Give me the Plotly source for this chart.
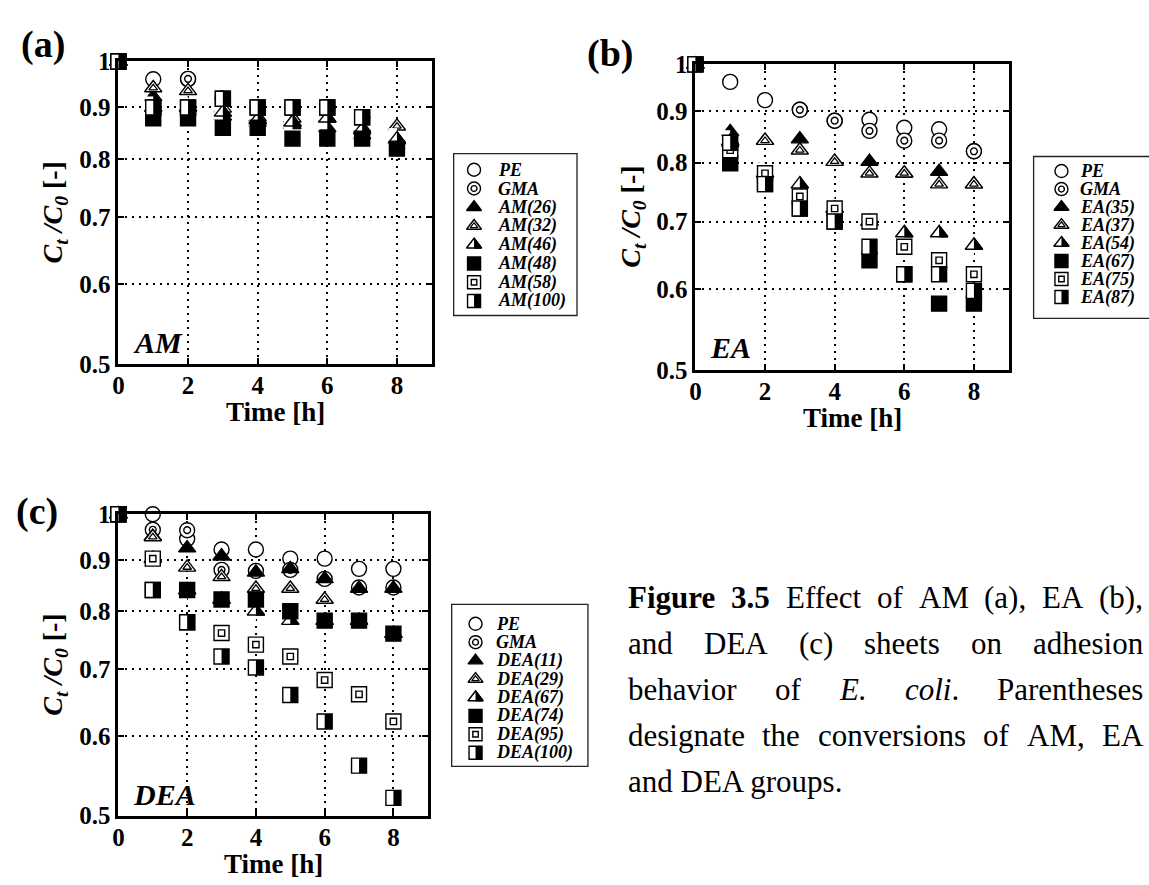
import plotly.graph_objects as go

W, H = 1149, 885
SERIF = "Liberation Serif, Times New Roman, Times, serif"

# ---------------- data ----------------
TIME_H = [0, 1, 2, 3, 4, 5, 6, 7, 8]
X_TICKS = [0, 2, 4, 6, 8]
Y_TICKS = [0.5, 0.6, 0.7, 0.8, 0.9, 1.0]
Y_TICK_TEXT = ["0.5", "0.6", "0.7", "0.8", "0.9", "1"]
SYMBOL_KINDS = ["circle", "dcircle", "tri", "dtri", "htri", "sq", "dsq", "hsq"]

AM_LABELS = ["PE", "GMA", "AM(26)", "AM(32)", "AM(46)", "AM(48)", "AM(58)", "AM(100)"]
AM_PE = [1.0, 0.960, 0.960, 0.918, 0.900, 0.900, 0.900, 0.880, 0.820]
AM_GMA = [1.0, 0.900, 0.961, 0.918, 0.900, 0.900, 0.900, 0.880, 0.820]
AM_26 = [1.0, 0.922, 0.900, 0.882, 0.870, 0.865, 0.859, 0.845, 0.835]
AM_32 = [1.0, 0.941, 0.935, 0.898, 0.880, 0.878, 0.878, 0.859, 0.862]
AM_46 = [1.0, 0.900, 0.900, 0.890, 0.875, 0.870, 0.878, 0.855, 0.837]
AM_48 = [1.0, 0.878, 0.878, 0.859, 0.859, 0.838, 0.838, 0.838, 0.819]
AM_58 = [1.0, 0.900, 0.900, 0.918, 0.900, 0.900, 0.900, 0.880, None]
AM_100 = [1.0, 0.900, 0.900, 0.918, 0.900, 0.900, 0.900, 0.880, None]

EA_LABELS = ["PE", "GMA", "EA(35)", "EA(37)", "EA(54)", "EA(67)", "EA(75)", "EA(87)"]
EA_PE = [1.0, 0.961, 0.922, 0.902, 0.880, 0.882, 0.866, 0.863, 0.821]
EA_GMA = [1.0, None, None, 0.902, 0.880, 0.860, 0.841, 0.841, 0.821]
EA_35 = [1.0, 0.858, 0.841, 0.844, 0.802, 0.802, 0.781, 0.784, 0.762]
EA_37 = [1.0, 0.837, 0.841, 0.823, 0.802, 0.781, 0.781, 0.762, 0.762]
EA_54 = [1.0, 0.840, 0.781, 0.762, 0.721, 0.700, 0.682, 0.682, 0.663]
EA_67 = [1.0, 0.799, 0.762, 0.721, 0.700, 0.641, 0.621, 0.581, 0.581]
EA_75 = [1.0, 0.823, 0.781, 0.741, 0.721, 0.700, 0.661, 0.641, 0.621]
EA_87 = [1.0, 0.837, 0.762, 0.721, 0.700, 0.661, 0.621, 0.621, 0.598]

DEA_LABELS = ["PE", "GMA", "DEA(11)", "DEA(29)", "DEA(67)", "DEA(74)", "DEA(95)", "DEA(100)"]
DEA_PE = [1.0, 1.000, 0.945, 0.922, 0.922, 0.903, 0.903, 0.882, 0.882]
DEA_GMA = [1.0, 0.965, 0.964, 0.880, 0.878, 0.880, 0.862, 0.845, 0.845]
DEA_11 = [1.0, 0.950, 0.925, 0.908, 0.875, 0.882, 0.862, 0.843, 0.843]
DEA_29 = [1.0, 0.949, 0.885, 0.866, 0.843, 0.843, 0.822, 0.783, 0.760]
DEA_67 = [1.0, 0.903, 0.840, 0.822, 0.800, 0.783, 0.783, 0.783, 0.760]
DEA_74 = [1.0, 0.840, 0.840, 0.822, 0.822, 0.800, 0.783, 0.783, 0.760]
DEA_95 = [1.0, 0.903, 0.780, 0.761, 0.741, 0.721, 0.683, 0.661, 0.621]
DEA_100 = [1.0, 0.840, 0.780, 0.721, 0.703, 0.660, 0.621, 0.561, 0.521]

PANEL_LETTERS = ["(a)", "(b)", "(c)"]
GROUP_NAMES = ["AM", "EA", "DEA"]
X_TITLE = "Time [h]"
Y_TITLE = "<b><i>C</i><sub><i>t</i></sub> <i>/C</i><sub><i>0</i></sub> [-]</b>"

CAPTION = [
    [[("Figure", "b")], [("3.5", "b")], [("Effect", "r")], [("of", "r")], [("AM", "r")],
     [("(a),", "r")], [("EA", "r")], [("(b),", "r")]],
    [[("and", "r")], [("DEA", "r")], [("(c)", "r")], [("sheets", "r")], [("on", "r")],
     [("adhesion", "r")]],
    [[("behavior", "r")], [("of", "r")], [("E.", "i")], [("coli", "i"), (".", "r")],
     [("Parentheses", "r")]],
    [[("designate", "r")], [("the", "r")], [("conversions", "r")], [("of", "r")],
     [("AM,", "r")], [("EA", "r")]],
    [[("and DEA groups.", "r")]],
]

# Times metrics (1/1000 em) used for justifying caption words
TIMES_R = {' ': 250, 'a': 444, 'b': 500, 'c': 444, 'd': 500, 'e': 444, 'f': 333, 'g': 500,
           'h': 500, 'i': 278, 'l': 278, 'm': 778, 'n': 500, 'o': 500, 'p': 500, 'r': 333,
           's': 389, 't': 278, 'u': 500, 'v': 500, 'A': 722, 'D': 722, 'E': 611, 'M': 889,
           'P': 556, '(': 333, ')': 333, ',': 250, '.': 250}
TIMES_B = {'F': 611, 'i': 278, 'g': 500, 'u': 556, 'r': 444, 'e': 444, '3': 500, '.': 250,
           '5': 500, ' ': 250}
TIMES_I = {'E': 611, '.': 250, 'c': 444, 'o': 500, 'l': 278, 'i': 278}


# ---------------- layout geometry (pixels) ----------------
def fx(px):
    return px / W


def fy(py):
    return 1 - py / H


PANELS = [
    dict(x="x", y="y", lx="x4", ly="y4", dom_x=(113, 428), dom_y=(50, 362),
         labels=AM_LABELS,
         series=[AM_PE, AM_GMA, AM_26, AM_32, AM_46, AM_48, AM_58, AM_100],
         letter=(37, 33), inner=(128, 340),
         leg_box=(450, 145, 574, 312), leg_sym=470.5, leg_text=494, leg_rows=(161.7, 297)),
    dict(x="x2", y="y2", lx="x5", ly="y5", dom_x=(693, 1008), dom_y=(53, 368),
         labels=EA_LABELS,
         series=[EA_PE, EA_GMA, EA_35, EA_37, EA_54, EA_67, EA_75, EA_87],
         letter=(607, 42), inner=(708, 345),
         leg_box=(1033, 148, 1170, 315), leg_sym=1061, leg_text=1080, leg_rows=(163, 293)),
    dict(x="x3", y="y3", lx="x6", ly="y6", dom_x=(113, 424), dom_y=(517, 828),
         labels=DEA_LABELS,
         series=[DEA_PE, DEA_GMA, DEA_11, DEA_29, DEA_67, DEA_74, DEA_95, DEA_100],
         letter=(31, 514), inner=(128, 806),
         leg_box=(448, 610, 585, 777), leg_sym=472, leg_text=492, leg_rows=(630, 763)),
]

LW = 1.4


def marker_layers(kind, s):
    ln = dict(color="black", width=LW)
    if kind == "circle":
        return [dict(symbol="circle", size=s, color="white", line=ln)]
    if kind == "dcircle":
        return [dict(symbol="circle", size=s, color="white", line=ln),
                dict(symbol="circle", size=s * 0.45, color="white", line=ln)]
    if kind == "tri":
        return [dict(symbol="triangle-up", size=s, color="black", line=ln)]
    if kind == "dtri":
        return [dict(symbol="triangle-up", size=s, color="white", line=ln),
                dict(symbol="triangle-up", size=s * 0.5, color="white",
                     line=dict(color="black", width=LW * 0.9))]
    if kind == "htri":
        half = 1.1547 * s / 2
        return [dict(symbol="triangle-up", size=s, color="black", line=ln),
                dict(symbol="line-ew", size=s * 1.05, color="white", angle=90,
                     standoff=half / 2, line=dict(color="white", width=half)),
                dict(symbol="triangle-up-open", size=s, color="black", line=ln)]
    if kind == "sq":
        return [dict(symbol="square", size=s, color="black", line=ln)]
    if kind == "dsq":
        return [dict(symbol="square", size=s, color="white", line=ln),
                dict(symbol="square", size=s * 0.42, color="white", line=ln)]
    if kind == "hsq":
        return [dict(symbol="square", size=s, color="white", line=ln),
                dict(symbol="line-ew", size=s / 1.4, color="black", angle=-90,
                     standoff=s / 4, line=dict(color="black", width=s / 2))]
    return []


fig = go.Figure()
annotations = []
shapes = []
layout_axes = {}


def axname(ref, kind):
    return kind + "axis" + ref[1:]


for p in PANELS:
    # data markers
    for vals, kind in zip(p["series"], SYMBOL_KINDS):
        for mk in marker_layers(kind, 15):
            fig.add_trace(go.Scatter(x=TIME_H, y=vals, mode="markers", marker=mk,
                                     xaxis=p["x"], yaxis=p["y"], cliponaxis=False,
                                     hoverinfo="skip", showlegend=False))
    # legend keys
    for k, kind in enumerate(SYMBOL_KINDS):
        for mk in marker_layers(kind, 13):
            fig.add_trace(go.Scatter(x=[0], y=[k], mode="markers", marker=mk,
                                     xaxis=p["lx"], yaxis=p["ly"], cliponaxis=False,
                                     hoverinfo="skip", showlegend=False))
        annotations.append(dict(xref=p["lx"], yref=p["ly"], x=0, y=k,
                                xshift=p["leg_text"] - p["leg_sym"],
                                text="<b><i>" + p["labels"][k] + "</i></b>",
                                xanchor="left", yanchor="middle", showarrow=False,
                                borderpad=0, borderwidth=0,
                                font=dict(family=SERIF, size=18, color="black")))

    x0, x1 = p["dom_x"]
    y0, y1 = p["dom_y"]
    common = dict(showline=True, linecolor="black", linewidth=3, mirror="ticks",
                  ticks="inside", ticklen=6, tickwidth=1.5, tickcolor="black",
                  showgrid=True, gridcolor="black", gridwidth=1.8, griddash="2px,5px",
                  zeroline=False, fixedrange=True,
                  tickfont=dict(family=SERIF, size=25, color="black", weight="bold"))
    layout_axes[axname(p["x"], "x")] = dict(common, domain=[fx(x0), fx(x1)], anchor=p["y"],
                                            range=[0, 9], tickvals=X_TICKS,
                                            ticklabelstandoff=-3)
    layout_axes[axname(p["y"], "y")] = dict(common, domain=[fy(y1), fy(y0)], anchor=p["x"],
                                            type="log", range=[-0.30103, 0],
                                            tickvals=Y_TICKS, ticktext=Y_TICK_TEXT)
    # legend axes (hidden): row k of the key list sits at y = k
    r0, r1 = p["leg_rows"]
    step = (r1 - r0) / 7
    layout_axes[axname(p["lx"], "x")] = dict(domain=[fx(p["leg_sym"] - 10), fx(p["leg_sym"] + 10)],
                                             range=[-1, 1], visible=False, anchor=p["ly"],
                                             fixedrange=True)
    layout_axes[axname(p["ly"], "y")] = dict(domain=[fy(r1 + step / 2), fy(r0 - step / 2)],
                                             range=[7.5, -0.5], visible=False, anchor=p["lx"],
                                             fixedrange=True)
    bx0, by0, bx1, by1 = p["leg_box"]
    shapes.append(dict(type="rect", xref="paper", yref="paper", x0=fx(bx0), x1=fx(bx1),
                       y0=fy(by1), y1=fy(by0), line=dict(color="#222222", width=1.3),
                       fillcolor="rgba(0,0,0,0)", layer="below"))
    # titles and labels
    cx = (x0 + x1) / 2
    cy = (y0 + y1) / 2
    annotations.append(dict(xref="paper", yref="paper", x=fx(cx), y=fy(y1 + 50),
                            text="<b>" + X_TITLE + "</b>", showarrow=False,
                            xanchor="center", yanchor="middle", borderpad=0, borderwidth=0,
                            font=dict(family=SERIF, size=27, color="black")))
    annotations.append(dict(xref="paper", yref="paper", x=fx(x0 - 64), y=fy(cy),
                            text=Y_TITLE, textangle=-90, showarrow=False,
                            xanchor="center", yanchor="middle", borderpad=0, borderwidth=0,
                            font=dict(family=SERIF, size=28, color="black")))

for p, letter, grp in zip(PANELS, PANEL_LETTERS, GROUP_NAMES):
    lx, ly = p["letter"]
    annotations.append(dict(xref="paper", yref="paper", x=fx(lx), y=fy(ly),
                            text="<b>" + letter + "</b>", showarrow=False,
                            xanchor="center", yanchor="middle", borderpad=0, borderwidth=0,
                            font=dict(family=SERIF, size=38, color="black")))
    ix, iy = p["inner"]
    annotations.append(dict(xref="paper", yref="paper", x=fx(ix), y=fy(iy),
                            text="<b><i>" + grp + "</i></b>", showarrow=False,
                            xanchor="left", yanchor="middle", borderpad=0, borderwidth=0,
                            font=dict(family=SERIF, size=30, color="black")))

# ---------------- caption (justified) ----------------
CAP_SIZE = 31
CAP_LEFT, CAP_RIGHT = 625, 1143
CAP_TOP, CAP_STEP = 603, 47.5
TABLES = {"r": TIMES_R, "b": TIMES_B, "i": TIMES_I}


def seg_w(text, style):
    return sum(TABLES[style].get(ch, 500) for ch in text) * CAP_SIZE / 1000.0


def seg_html(text, style):
    if style == "b":
        return "<b>" + text + "</b>"
    if style == "i":
        return "<i>" + text + "</i>"
    return text


for li, words in enumerate(CAPTION):
    py = CAP_TOP + li * CAP_STEP
    widths = [sum(seg_w(t, s) for t, s in w) for w in words]
    gap = (CAP_RIGHT - CAP_LEFT - sum(widths)) / (len(words) - 1) if len(words) > 1 else 0
    xpos = CAP_LEFT
    for w, wd in zip(words, widths):
        annotations.append(dict(xref="paper", yref="paper", x=fx(xpos), y=fy(py),
                                text="".join(seg_html(t, s) for t, s in w),
                                showarrow=False, xanchor="left", yanchor="middle",
                                borderpad=0, borderwidth=0,
                                font=dict(family=SERIF, size=CAP_SIZE, color="black")))
        xpos += wd + gap

fig.update_layout(width=W, height=H, margin=dict(l=0, r=0, t=0, b=0),
                  paper_bgcolor="white", plot_bgcolor="white", showlegend=False,
                  annotations=annotations, shapes=shapes, **layout_axes)

fig.write_html("out.html")
